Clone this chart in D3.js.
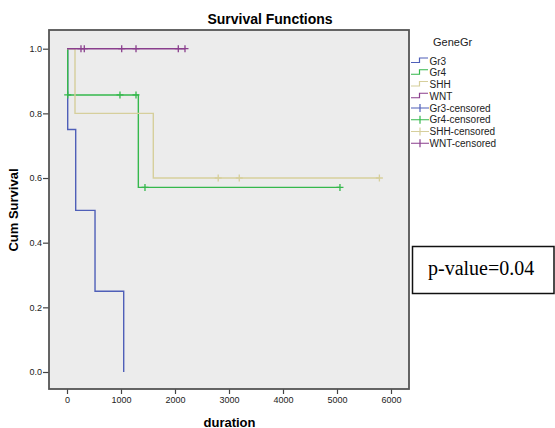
<!DOCTYPE html>
<html>
<head>
<meta charset="utf-8">
<script src="https://cdn.jsdelivr.net/npm/d3@7"></script>
<style>
  body { margin: 0; background: #fff; }
  svg { display: block; font-family: "Liberation Sans", Arial, sans-serif; }
</style>
</head>
<body>
<div class="canvas"></div>
<script>
'use strict';
// groups, colours and KM steps
var groups = ['Gr3', 'Gr4', 'SHH', 'WNT']
var colors = ['#4f5fb8', '#35b84c', '#d6cf9c', '#8a3f8d']

var gr3Times = [0, 13, 161, 519, 1050], gr3Surv = [1, 0.75, 0.5, 0.25, 0]
var gr4Times = [0, 13, 1321, 5055], gr4Surv = [1, 0.857, 0.571, 0.571]
var shhTimes = [0, 148, 1598, 5785], shhSurv = [1, 0.8, 0.6, 0.6]
var wntTimes = [0, 2185], wntSurv = [1, 1]

var gr3Cens = [], gr3CensS = []
var gr4Cens = [13, 981, 1278, 1444, 5055], gr4CensS = [0.857, 0.857, 0.857, 0.571, 0.571]
var shhCens = [2800, 3190, 5785], shhCensS = [0.6, 0.6, 0.6]
var wntCens = [259, 320, 1013, 1278, 2061, 2185], wntCensS = [1, 1, 1, 1, 1, 1]

var xTicks = [0, 1000, 2000, 3000, 4000, 5000, 6000]
var yTicks = [0, 0.2, 0.4, 0.6, 0.8, 1.0]

var steps = [
    {t: gr3Times, s: gr3Surv, ct: gr3Cens, cs: gr3CensS},
    {t: gr4Times, s: gr4Surv, ct: gr4Cens, cs: gr4CensS},
    {t: shhTimes, s: shhSurv, ct: shhCens, cs: shhCensS},
    {t: wntTimes, s: wntSurv, ct: wntCens, cs: wntCensS}
]

var W = 555, H = 428
var svg = d3.select(".canvas").append("svg")
    .attr("width", W)
    .attr("height", H)

var xScale = d3.scaleLinear().domain([0, 6000]).range([67, 391])
var yScale = d3.scaleLinear().domain([0, 1]).range([372, 48.7])

var frame = {x0: 49, x1: 409, y0: 30, y1: 389}

svg.append("rect")
    .attr("x", frame.x0).attr("y", frame.y0)
    .attr("width", frame.x1 - frame.x0).attr("height", frame.y1 - frame.y0)
    .attr("fill", "#ececec")

// axes
var yAxis = svg.append("g")
    .attr("transform", "translate(" + frame.x0 + ",0)")
    .call(d3.axisLeft(yScale).tickValues(yTicks).tickSize(6).tickPadding(1).tickFormat(d3.format(".1f")))
var xAxis = svg.append("g")
    .attr("transform", "translate(0," + frame.y1 + ")")
    .call(d3.axisBottom(xScale).tickValues(xTicks).tickSize(5).tickPadding(3).tickFormat(d3.format("d")))
svg.selectAll(".domain").remove()
svg.selectAll(".tick line").attr("stroke", "#444").attr("stroke-width", 1.2)
svg.selectAll(".tick text").attr("font-size", 9).attr("fill", "#222")
    .attr("font-family", "'Liberation Sans', Arial, sans-serif")

// survival curves
var line = d3.line().curve(d3.curveStepAfter)
steps.forEach(function (g, i) {
    var pts = g.t.map(function (t, j) { return [xScale(t), yScale(g.s[j])] })
    svg.append("path")
        .attr("d", line(pts))
        .attr("fill", "none")
        .attr("stroke", colors[i])
        .attr("stroke-width", 1.4)
    g.ct.forEach(function (t, j) {
        var cx = xScale(t), cy = yScale(g.cs[j])
        svg.append("path")
            .attr("d", "M" + (cx - 3.5) + "," + cy + "H" + (cx + 3.5) + "M" + cx + "," + (cy - 3.5) + "V" + (cy + 3.5))
            .attr("stroke", colors[i])
            .attr("stroke-width", 1.3)
    })
})

// frame
svg.append("rect")
    .attr("x", frame.x0).attr("y", frame.y0)
    .attr("width", frame.x1 - frame.x0).attr("height", frame.y1 - frame.y0)
    .attr("fill", "none")
    .attr("stroke", "#555")
    .attr("stroke-width", 1.8)

// titles
svg.append("text")
    .attr("x", 270).attr("y", 24)
    .attr("text-anchor", "middle")
    .attr("font-size", 14).attr("font-weight", "bold")
    .text("Survival Functions")
svg.append("text")
    .attr("x", 229.5).attr("y", 426.5)
    .attr("text-anchor", "middle")
    .attr("font-size", 13).attr("font-weight", "bold")
    .text("duration")
svg.append("text")
    .attr("transform", "translate(17.5,210) rotate(-90)")
    .attr("text-anchor", "middle")
    .attr("font-size", 13).attr("font-weight", "bold")
    .text("Cum Survival")

// legend
var legend = svg.append("g")
legend.append("text")
    .attr("x", 433).attr("y", 46)
    .attr("font-size", 11).attr("fill", "#222")
    .text("GeneGr")
var legItems = groups.concat(groups.map(function (g) { return g + "-censored" }))
legItems.forEach(function (name, i) {
    var y = 61 + i * 11.75
    var c = colors[i % 4]
    if (i < 4) {
        legend.append("path")
            .attr("d", "M411," + (y + 1.5) + "H419.5V" + (y - 3) + "H428")
            .attr("fill", "none").attr("stroke", c).attr("stroke-width", 1.2)
    } else {
        legend.append("path")
            .attr("d", "M411," + y + "H429M420," + (y - 4) + "V" + (y + 4))
            .attr("stroke", c).attr("stroke-width", 1.2)
    }
    legend.append("text")
        .attr("x", 429.5).attr("y", y + 3.5)
        .attr("font-size", 10).attr("fill", "#222")
        .text(name)
})

// p-value box
svg.append("rect")
    .attr("x", 412.5).attr("y", 246.5)
    .attr("width", 141.5).attr("height", 47)
    .attr("fill", "#fff").attr("stroke", "#111").attr("stroke-width", 1.5)
svg.append("text")
    .attr("x", 428).attr("y", 275)
    .attr("font-family", "'Liberation Serif', 'Times New Roman', serif")
    .attr("font-size", 20)
    .text("p-value=0.04")
</script>
</body>
</html>
